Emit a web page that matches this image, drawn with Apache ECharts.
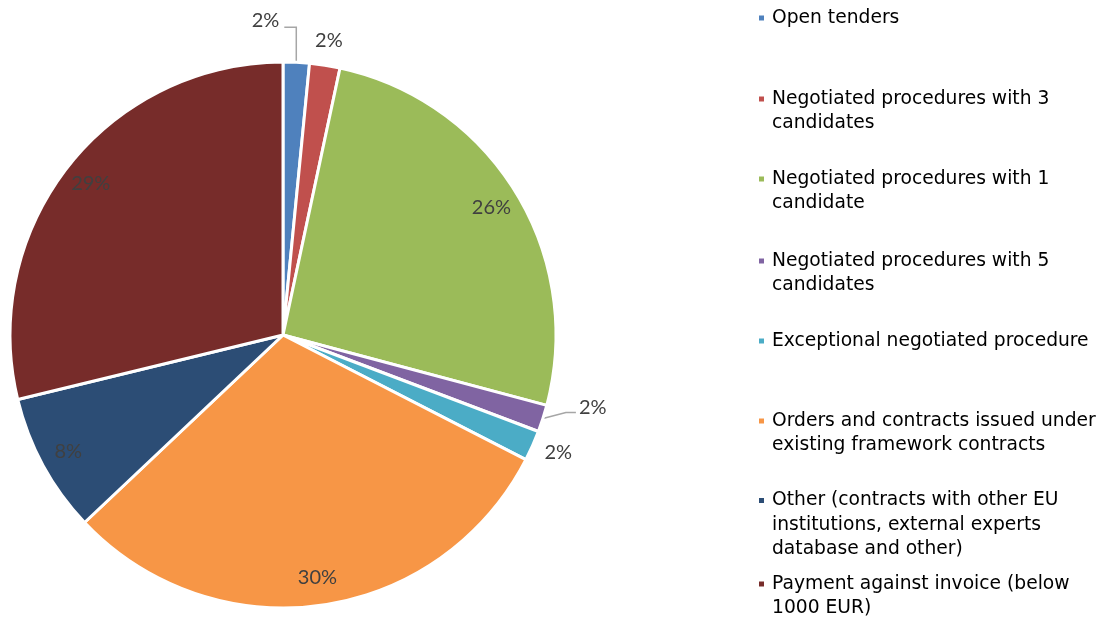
<!DOCTYPE html>
<html>
<head>
<meta charset="utf-8">
<title>Procedures</title>
<script src="https://cdn.jsdelivr.net/npm/echarts@6/dist/echarts.min.js"></script>
<style>
  html, body { margin: 0; padding: 0; background: #fff; }
  #main { width: 1108px; height: 623px; }
</style>
</head>
<body>
<div id="main"></div>
<script>
// share of procedures (%), clockwise from 12 o'clock
var names = [
  'Open tenders',
  'Negotiated procedures with 3\ncandidates',
  'Negotiated procedures with 1\ncandidate',
  'Negotiated procedures with 5\ncandidates',
  'Exceptional negotiated procedure',
  'Orders and contracts issued under\nexisting framework contracts',
  'Other (contracts with other EU\ninstitutions, external experts\ndatabase and other)',
  'Payment against invoice (below\n1000 EUR)'
];
var values = [1.55, 1.8, 25.8, 1.6, 1.8, 30.4, 8.25, 28.8];
var colors = ['#4F81BD', '#C0504D', '#9BBB59', '#8064A2', '#4BACC6', '#F79646', '#2C4D75', '#772C2A'];
// legend rows: y of each entry's first line
var legendRows = [17, 98, 178, 260, 340, 420, 499.5, 583];

var SMALL = 5; // slices under 5% get outside labels
var lh = 24.5;

var pctLabel = function (p) { return Math.round(p.percent) + '%'; };
var labelFont = { fontFamily: 'Lato', fontSize: 20, color: '#404040' };

var mainData = [], overlayData = [];
for (var i = 0; i < values.length; i++) {
  var small = values[i] < SMALL;
  var hiddenLine = (i === 1 || i === 4);
  mainData.push({
    name: names[i],
    value: values[i],
    itemStyle: { color: colors[i] },
    label: { show: small },
    labelLine: { show: small, lineStyle: { opacity: hiddenLine ? 0 : 1 } }
  });
  overlayData.push({
    name: names[i],
    value: values[i],
    label: { show: !small }
  });
}

// one legend per entry; the marker sits on the first text line
var legends = [];
for (var k = 0; k < names.length; k++) {
  var n = names[k].split('\n').length;
  var h = n * lh;
  var mark = 'path://M0,0M0,' + (lh / 2 - 3.5) + 'h7v7h-7zM9,' + h;
  legends.push({
    orient: 'vertical',
    left: 757,
    top: legendRows[k] - lh / 2,
    padding: 0,
    itemWidth: 9,
    itemHeight: h,
    selectedMode: false,
    textStyle: {
      fontFamily: 'DejaVu Sans',
      fontSize: 18.7,
      color: '#000',
      lineHeight: lh
    },
    data: [{ name: names[k], icon: mark }]
  });
}

var myChart = echarts.init(document.getElementById('main'));
myChart.setOption({
  animation: false,
  legend: legends,
  series: [
    {
      name: 'main',
      type: 'pie',
      center: [283, 335],
      radius: 273,
      startAngle: 90,
      avoidLabelOverlap: false,
      itemStyle: { borderColor: '#fff', borderWidth: 3 },
      label: Object.assign({ position: 'outside', formatter: pctLabel }, labelFont),
      labelLine: { length: 20, length2: 10, smooth: false, lineStyle: { color: '#A6A6A6', width: 1.5 } },
      // place the small-slice labels the way the original chart does
      labelLayout: function (p) {
        var pts = p.labelLinePoints;
        if (!pts) return {};
        var e = pts[0];
        if (p.dataIndex === 0) {
          return {
            x: e[0] - 17, y: e[1] - 42, align: 'right', verticalAlign: 'middle',
            labelLinePoints: [e, [e[0], e[1] - 35], [e[0] - 12, e[1] - 35]]
          };
        }
        if (p.dataIndex === 1) {
          return { x: e[0] + 4, y: e[1] - 25, align: 'center', verticalAlign: 'middle' };
        }
        if (p.dataIndex === 3) {
          return {
            x: e[0] + 36, y: e[1] - 11, align: 'left', verticalAlign: 'middle',
            labelLinePoints: [e, [e[0] + 23, e[1] - 6], [e[0] + 33, e[1] - 6]]
          };
        }
        if (p.dataIndex === 4) {
          return { x: e[0] + 12, y: e[1] + 7, align: 'left', verticalAlign: 'middle' };
        }
        return {};
      },
      emphasis: { disabled: true },
      data: mainData
    },
    {
      // transparent ring only to put the big labels near the rim
      name: 'labels',
      type: 'pie',
      center: [283, 335],
      radius: [210, 273],
      startAngle: 90,
      silent: true,
      itemStyle: { color: 'rgba(0,0,0,0)' },
      label: Object.assign({ position: 'inside', formatter: pctLabel }, labelFont),
      labelLine: { show: false },
      emphasis: { disabled: true },
      data: overlayData
    }
  ]
});
</script>
</body>
</html>
